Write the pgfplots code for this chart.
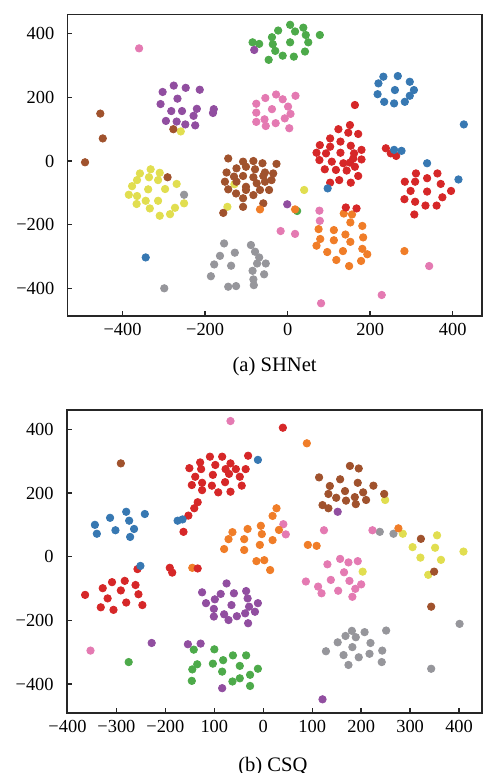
\documentclass[border=0pt]{standalone}
\usepackage{pgfplots}
\pgfplotsset{compat=1.18}
\usepackage{fontspec}
\setmainfont{Liberation Serif}
\definecolor{cred}{RGB}{214,39,40}
\definecolor{cblue}{RGB}{55,120,178}
\definecolor{cgreen}{RGB}{77,170,74}
\definecolor{cpurple}{RGB}{145,78,160}
\definecolor{corange}{RGB}{240,125,40}
\definecolor{cyellow}{RGB}{225,222,80}
\definecolor{cbrown}{RGB}{160,82,45}
\definecolor{cpink}{RGB}{228,122,178}
\definecolor{cgray}{RGB}{150,150,155}
\pgfplotsset{
  dots/.style={only marks, mark=*, mark size=1.85pt, mark options={draw=#1, fill=#1}},
  panel/.style={
    anchor=south west, scale only axis,
    tick align=inside, major tick length=2.5pt,
    xtick pos=bottom, ytick pos=left,
    axis line style={black!85, line width=0.8pt},
    every tick/.style={black!85, line width=0.7pt},
    ticklabel style={font=\fontsize{9.2}{10}\selectfont},
    yticklabel style={xshift=-3pt},
    xlabel style={font=\fontsize{10.3}{12}\selectfont},
    clip=false,
  },
}
\begin{document}
\begin{tikzpicture}
\useasboundingbox (0,0) rectangle (241.5pt,386.5pt);
% ---------------- (a) SHNet ----------------
\begin{axis}[panel,
  at={(33.65pt,228.5pt)}, width=207.35pt, height=150.85pt,
  xmin=-534, xmax=471, ymin=-487, ymax=461,
  xtick={-400,-200,0,200,400}, xticklabels={−400,−200,0,200,400},
  ytick={-400,-200,0,200,400}, yticklabels={−400,−200,0,200,400},
  xlabel={(a) SHNet},
  xlabel style={at={(axis description cs:0.5,0)}, anchor=center, yshift=-25.5pt},
]
\addplot[dots=cgray] coordinates {(-154,-259)(-128,-288)(-164,-298)(-89,-264)(-79,-285)(-69,-303)(-74,-322)(-53,-322)(-178,-325)(-137,-329)(-85,-345)(-57,-356)(-186,-362)(-83,-372)(-82,-390)(-144,-395)(-125,-393)(-251,-106)(-299,-400)};
\addplot[dots=cyellow] coordinates {(-332,-26)(-310,-37)(-358,-39)(-365,-60)(-336,-51)(-314,-60)(-269,-72)(-377,-79)(-338,-89)(-297,-88)(-385,-106)(-365,-110)(-344,-125)(-314,-125)(-251,-133)(-366,-135)(-334,-149)(-273,-147)(-285,-167)(-310,-172)(-259,93)(-129,-73)(-146,-144)(40,-91)};
\addplot[dots=cbrown] coordinates {(-144,8)(-108,-2)(-83,0)(-61,-7)(-27,-9)(-148,-36)(-124,-23)(-101,-18)(-79,-26)(-55,-36)(-35,-39)(-130,-49)(-108,-47)(-83,-51)(-59,-47)(-39,-60)(-152,-65)(-124,-65)(-101,-81)(-75,-70)(-55,-65)(-144,-89)(-125,-102)(-101,-91)(-83,-107)(-67,-91)(-45,-91)(-108,-117)(-59,-133)(-108,-144)(-156,-163)(-454,149)(-448,71)(-491,-4)(-277,100)(-291,-51)};
\addplot[dots=cgreen] coordinates {(-85,373)(-69,368)(-38,389)(-36,367)(-30,346)(-46,318)(-23,410)(6,428)(38,419)(18,407)(44,396)(78,396)(6,373)(50,373)(42,344)(-12,331)(15,328)(23,-157)};
\addplot[dots=cpurple] coordinates {(-276,237)(-247,230)(-213,224)(-303,217)(-267,196)(-308,179)(-282,157)(-256,157)(-220,164)(-179,163)(-181,151)(-295,126)(-269,124)(-248,115)(-228,142)(-224,112)(-81,349)(-1,-136)};
\addplot[dots=cpink] coordinates {(-360,354)(-76,180)(-54,198)(-28,209)(-38,163)(-76,152)(-56,131)(-76,123)(-53,110)(-29,119)(19,205)(-12,194)(1,171)(7,148)(-7,134)(4,103)(77,-156)(78,-188)(-17,-220)(18,-229)(343,-330)(228,-421)(81,-447)};
\addplot[dots=corange] coordinates {(136,-165)(156,-168)(152,-193)(181,-204)(75,-214)(112,-217)(140,-231)(183,-240)(79,-245)(112,-249)(152,-254)(70,-266)(96,-286)(134,-283)(181,-276)(193,-293)(118,-311)(178,-314)(149,-330)(-67,-152)(18,-152)(283,-283)};
\addplot[dots=cred] coordinates {(151,113)(123,100)(147,89)(171,85)(103,71)(128,61)(78,50)(103,45)(153,48)(179,35)(70,26)(93,24)(128,26)(161,24)(159,8)(179,5)(77,3)(107,-2)(135,-7)(151,-5)(90,-26)(117,-28)(143,-30)(163,-18)(171,-47)(125,-60)(103,-68)(153,-68)(163,176)(238,40)(250,24)(263,16)(311,-39)(363,-39)(284,-65)(309,-65)(338,-54)(371,-72)(298,-94)(338,-96)(396,-94)(283,-120)(309,-128)(375,-114)(334,-140)(361,-140)(307,-168)(141,-146)(167,-149)};
\addplot[dots=cblue] coordinates {(232,265)(267,267)(296,249)(220,244)(260,223)(306,223)(218,210)(296,205)(234,186)(258,181)(284,186)(427,115)(258,35)(276,32)(338,-7)(414,-58)(97,-86)(-344,-303)};
\end{axis}
% ---------------- (b) CSQ ----------------
\begin{axis}[panel,
  at={(33.35pt,30.15pt)}, width=207.5pt, height=151.35pt,
  xmin=-401.6, xmax=446.2, ymin=-490, ymax=460.6,
  xtick={-400,-300,-200,-100,0,100,200,300,400},
  xticklabels={−400,−300,−200,100,0,100,200,300,400},
  ytick={-400,-200,0,200,400}, yticklabels={−400,−200,0,200,400},
  xlabel={(b) CSQ},
  xlabel style={at={(axis description cs:0.497,0)}, anchor=center, yshift=-26.7pt},
]
\addplot[dots=cgray] coordinates {(181,-233)(168,-249)(189,-253)(207,-237)(251,-232)(152,-269)(219,-271)(182,-284)(128,-297)(243,-295)(164,-309)(195,-316)(217,-305)(242,-331)(174,-340)(238,78)(266,72)(401,-211)(343,-352)};
\addplot[dots=cyellow] coordinates {(249,178)(285,72)(355,67)(305,30)(351,28)(409,16)(321,-3)(363,-10)(337,-57)(203,-47)};
\addplot[dots=cbrown] coordinates {(177,285)(195,277)(114,249)(157,243)(193,232)(136,222)(225,223)(167,206)(204,202)(133,197)(247,197)(149,185)(187,187)(169,176)(210,178)(189,165)(121,162)(133,152)(-291,293)(322,56)(349,-47)(343,-157)};
\addplot[dots=cgreen] coordinates {(-142,-292)(-100,-291)(-62,-310)(-35,-310)(-82,-325)(-135,-338)(-103,-336)(-48,-343)(-145,-354)(-11,-352)(-84,-361)(-27,-371)(-48,-382)(-146,-390)(-63,-392)(-27,-406)(-275,-331)};
\addplot[dots=cpurple] coordinates {(-75,-84)(-125,-112)(-87,-117)(-60,-115)(-35,-108)(-99,-134)(-32,-131)(-11,-146)(-117,-146)(-65,-152)(-29,-157)(-101,-164)(-17,-173)(-37,-178)(-80,-181)(-54,-187)(-101,-188)(-71,-199)(-31,-209)(-228,-271)(-154,-275)(-128,-273)(-84,-413)(152,141)(121,-448)};
\addplot[dots=cpink] coordinates {(-67,426)(-353,-295)(41,102)(46,70)(124,83)(223,83)(157,-7)(174,-18)(193,-14)(131,-24)(165,-49)(87,-78)(138,-73)(176,-76)(112,-94)(200,-87)(188,-101)(119,-115)(153,-107)(182,-126)};
\addplot[dots=corange] coordinates {(27,152)(19,128)(-5,97)(-32,87)(-63,77)(-3,71)(32,84)(-71,55)(-39,55)(19,52)(-7,37)(-80,24)(-39,21)(-14,-14)(2,-11)(14,-42)(-145,-35)(89,356)(91,37)(109,34)(276,89)};
\addplot[dots=cred] coordinates {(-109,314)(-84,314)(-31,317)(-129,296)(-67,293)(-98,288)(-151,278)(-127,275)(-77,275)(-56,275)(-36,275)(-70,260)(-103,257)(-139,251)(-48,251)(-125,232)(-78,234)(-146,225)(-105,223)(-44,223)(-125,209)(-92,202)(-67,204)(-134,171)(-141,152)(-153,129)(-163,78)(40,405)(-257,-39)(-191,-35)(-186,-50)(-134,-37)(-309,-80)(-283,-76)(-328,-99)(-291,-106)(-261,-89)(-364,-120)(-255,-118)(-318,-131)(-280,-144)(-247,-152)(-332,-159)(-306,-167)};
\addplot[dots=cblue] coordinates {(-280,141)(-242,134)(-313,122)(-274,113)(-344,100)(-302,83)(-264,87)(-340,72)(-272,62)(-175,113)(-165,117)(-11,304)(-251,-29)};
\end{axis}
\end{tikzpicture}
\end{document}
